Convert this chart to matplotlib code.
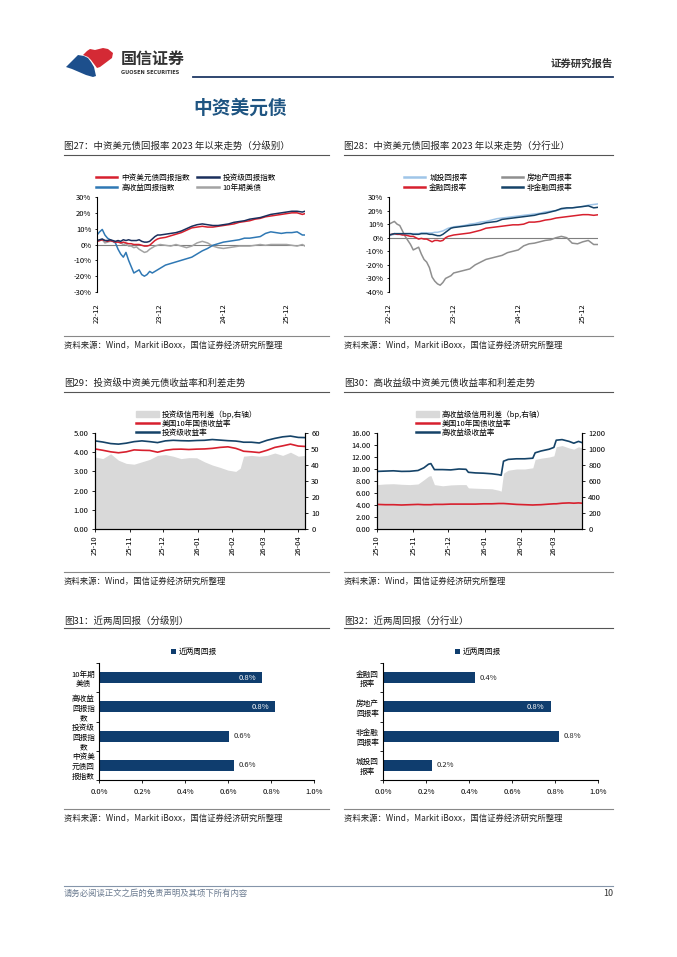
import numpy as np
import pandas as pd
import matplotlib
matplotlib.use('Agg')
import matplotlib.pyplot as plt
from matplotlib.patches import Patch
from matplotlib.lines import Line2D
from matplotlib.ticker import FuncFormatter

plt.rcParams['font.family'] = ['Noto Sans CJK SC', 'DejaVu Sans']
plt.rcParams['axes.unicode_minus'] = False

W, H = 677, 957

# ---------------- data ----------------
# months since 2022-12 (charts 27/28)
m_grid = [0, 0.5, 1, 1.5, 2, 2.5, 3, 3.5, 4, 4.5, 5, 5.5, 6, 6.5, 7, 7.5, 8, 8.5, 9, 9.5,
          10, 10.5, 11, 11.5, 12, 13, 14, 15, 16, 17, 18, 19, 20, 21, 22, 23, 24, 25, 26,
          27, 28, 29, 30, 31, 32, 33, 34, 35, 36, 37, 38, 39, 39.5]
year_ticks = [0, 12, 24, 36]
year_labels = ['22-12', '23-12', '24-12', '25-12']

# fig 27 (%)
cn_usd = [2, 2.5, 3, 2.5, 2, 2.5, 2, 1.5, 1.5, 1, 1.5, 1, 0.5, 0.5, 0, 0, 0, -0.5, -1, -1,
          -0.5, 1, 2.5, 3.5, 4, 4.5, 5.5, 6.5, 7.5, 9, 10.5, 11, 11.5, 11, 11, 11.5, 12, 12.5, 13,
          14, 14.5, 15, 16, 16.5, 17.5, 18, 18.5, 19, 19.5, 20, 20, 19, 19.5]
ig_idx = [2.5, 3, 3.5, 2.5, 2.5, 3, 2.5, 2, 2.5, 2, 3, 2.5, 3, 2.5, 2.5, 2.5, 3, 2, 1.5, 1.5,
          2, 3.5, 5, 6, 6, 6.5, 7, 7.5, 8.5, 10, 11.5, 12.5, 13, 12.5, 12, 12, 12.5, 13, 14,
          14.5, 15, 16, 16.5, 17, 18, 19, 19.5, 20, 20.5, 21, 21, 20.5, 21]
hy_idx = [6, 8, 9.5, 6, 4, 3, 2, 1, -3, -6, -8, -5, -10, -14, -18, -17, -16, -19, -20, -19,
          -17, -18, -17, -16, -15, -13, -12, -11, -10, -9, -8, -6, -4, -2.5, -0.5, 0.5, 1.5, 2, 2.5,
          3, 4, 4, 4.5, 5, 7, 8, 7.5, 7, 7.5, 7.5, 8, 6, 6]
ust10 = [2, 2.5, 3, 1, 1.5, 2, 2, 1.5, 2, 1, 0, 0.5, -1, -1, -2, -1.5, -3, -4, -5, -4.5,
         -3, -2, -1, -0.5, 0, -0.5, -1, 0, -1, -2, -1, 1, 2, 1, -1, -2, -2.5, -2, -1.5,
         -1, -1, -1, -0.5, 0, -0.5, 0, 0, 0, 0, -0.5, -1, 0, -1]

# fig 28 (%)
lgfv = [1.5, 2, 2.5, 2.5, 2.5, 2.5, 3, 3, 3, 3, 3, 3, 3.5, 3.5, 3.5, 3.5, 3.5, 4, 4, 4.5,
        5, 6, 7, 7.5, 8, 8.5, 9, 10, 10.5, 11.5, 12, 13, 14, 14.5, 15, 15.5, 16, 16.5, 17,
        17.5, 18, 19, 19.5, 20, 21, 21.5, 22, 22.5, 23, 24, 24.5, 25, 25]
property_ = [10, 11, 12, 10, 9, 5, 1, -2, -5, -9, -8, -7, -12, -16, -18, -22, -29, -32, -34, -35,
             -33, -30, -29, -28, -26, -25, -24, -23, -20, -18, -16, -15, -14, -13, -11, -10, -9, -6, -4.5,
             -4, -3, -2, -1.5, 0, 1, 0, -4, -4.5, -3, -2, -5, -5, -5]
financial = [2, 2.5, 3, 2.5, 2.5, 2, 2, 1.5, 1, 1, 0, -1, -0.5, -1, -1, -2, -3, -2, -2, -2.5,
             -2, 0, 1, 1.5, 2, 2.5, 3, 3.5, 4.5, 5.5, 7, 7.5, 8, 8.5, 9, 9.5, 9.5, 10, 11.5,
             11.5, 12, 13, 13.5, 14.5, 15, 15.5, 16, 16.5, 17, 17, 16.5, 17, 17]
non_fin = [2, 2.5, 3, 3, 3, 3, 3, 3, 3, 2.5, 2.5, 2.5, 3, 3, 3, 2.5, 2.5, 2, 1.5, 1.5,
           2.5, 4, 5.5, 7, 7.5, 8, 8.5, 9, 9.5, 10, 11, 11.5, 12, 13.5, 14, 14.5, 15, 15.5, 16,
           16.5, 17.5, 18, 19, 20, 21.5, 22, 22, 22.5, 23, 23.5, 22, 22.5, 22.5]

# fig 29: days since 2025-10-01
days29 = [0, 7, 14, 21, 28, 35, 42, 49, 56, 63, 70, 77, 84, 91, 98, 105, 112, 119, 126, 130,
          133, 140, 147, 154, 161, 168, 175, 182, 188]
ig_yield = [4.59, 4.53, 4.45, 4.42, 4.47, 4.55, 4.59, 4.55, 4.50, 4.59, 4.62, 4.60, 4.59, 4.61,
            4.62, 4.66, 4.63, 4.60, 4.58, 4.55, 4.52, 4.52, 4.48, 4.62, 4.72, 4.80, 4.84, 4.77, 4.76]
ust29 = [4.17, 4.10, 4.02, 3.97, 4.02, 4.12, 4.10, 4.09, 4.00, 4.10, 4.15, 4.16, 4.14, 4.16,
         4.17, 4.20, 4.25, 4.28, 4.20, 4.12, 4.05, 4.02, 3.98, 4.10, 4.25, 4.33, 4.42, 4.32, 4.30]
ig_spread = [45, 44, 47, 43, 41, 40.5, 42, 43.5, 46, 46.5, 45.5, 44, 44.6, 44.5, 42, 40, 38.5,
             36.8, 36, 38, 45.5, 46, 45.5, 46, 47.5, 46, 48, 45.5, 46]

# fig 30
days30 = [0, 7, 14, 21, 28, 35, 40, 44, 46, 49, 56, 63, 70, 76, 78, 84, 91, 98, 104, 106, 108,
          112, 119, 126, 133, 135, 140, 147, 151, 153, 158, 164, 168, 172, 175]
hy_yield = [9.6, 9.65, 9.7, 9.6, 9.62, 9.75, 10.2, 10.8, 10.9, 9.9, 9.9, 9.85, 10.0, 9.95, 9.45,
            9.35, 9.3, 9.2, 9.05, 8.95, 11.3, 11.6, 11.7, 11.7, 11.8, 12.7, 13.0, 13.3, 13.6, 14.8,
            14.9, 14.6, 14.3, 14.6, 14.4]
ust30 = [4.1, 4.05, 4.05, 4.0, 4.05, 4.1, 4.05, 4.05, 4.05, 4.1, 4.1, 4.15, 4.15, 4.15, 4.15,
         4.15, 4.2, 4.2, 4.25, 4.25, 4.25, 4.2, 4.1, 4.05, 4.0, 4.02, 4.05, 4.15, 4.2, 4.2, 4.3,
         4.35, 4.3, 4.35, 4.3]
hy_spread = [555, 563, 566, 559, 555, 563, 615, 660, 668, 555, 540, 551, 555, 555, 514, 510, 506,
             503, 484, 473, 698, 735, 750, 750, 765, 870, 885, 900, 915, 1028, 1043, 1013, 998,
             1028, 1013]

# fig 31 / 32 (%)
cats31 = ['10年期\n美债', '高收益\n回报指\n数', '投资级\n回报指\n数', '中资美\n元债回\n报指数']
vals31 = [0.76, 0.82, 0.605, 0.63]
cats32 = ['金融回\n报率', '房地产\n回报率', '非金融\n回报率', '城投回\n报率']
vals32 = [0.43, 0.78, 0.82, 0.23]

# ---------------- style ----------------
RED = '#d7202e'
NAVY = '#1a2f5c'
NAVY2 = '#154368'
HYBLUE = '#2f78b4'
LIGHT = '#9fc5e8'
GRAY = '#a3a3a3'
AREA = '#d9d9d9'
BAR = '#0f3d6e'
FS = 5.5


def rect(l, t, r, b):
    return [l / W, 1 - b / H, (r - l) / W, (b - t) / H]


def fig_pt(x, y):
    return (x / W, 1 - y / H)


fig = plt.figure(figsize=(W / 100, H / 100), dpi=100)
page = fig.add_axes([0, 0, 1, 1])
page.set_xlim(0, W)
page.set_ylim(H, 0)
page.axis('off')

# header / logo
page.fill([66, 72, 78, 84, 88, 91, 94, 96, 93, 86, 79, 72],
          [67, 61, 55, 56, 58, 62, 67, 76, 77, 75, 72, 69],
          color='#1d4f8c', lw=0)
page.fill([83, 87, 90, 95, 99, 103, 108, 113, 112, 108, 104, 100, 97, 94, 91, 88],
          [55, 51, 49, 50, 49, 48, 49, 53, 58, 61, 64, 67, 68, 64, 60, 57],
          color='#d42a35', lw=0)
page.text(121, 59, '国信证券', fontsize=11.5, fontweight='bold', color='#333333', va='center')
page.text(121, 72, 'GUOSEN SECURITIES', fontsize=3.6, fontweight='bold', color='#333333',
          va='center', family='DejaVu Sans')
page.text(613, 64, '证券研究报告', fontsize=7.5, fontweight='bold', color='#333333', ha='right', va='center')
page.plot([193, 613], [77, 77], color='#1f3864', lw=1.3)
page.text(193, 108, '中资美元债', fontsize=13.5, fontweight='bold', color='#1f5582', va='center')

titles = [
    (64, 146, '图27：中资美元债回报率 2023 年以来走势（分级别）'),
    (344, 146, '图28：中资美元债回报率 2023 年以来走势（分行业）'),
    (64, 383, '图29：投资级中资美元债收益率和利差走势'),
    (344, 383, '图30：高收益级中资美元债收益率和利差走势'),
    (64, 621, '图31：近两周回报（分级别）'),
    (344, 621, '图32：近两周回报（分行业）'),
]
for x, y, s in titles:
    page.text(x, y, s, fontsize=6.8, color='#222222', va='center')
for y in (155, 392, 628):
    page.plot([64, 329], [y, y], color='#555555', lw=0.8)
    page.plot([344, 613], [y, y], color='#555555', lw=0.8)

src_a = '资料来源：Wind，Markit iBoxx，国信证券经济研究所整理'
src_b = '资料来源：Wind，国信证券经济研究所整理'
for y_line, y_txt, s in ((336, 345, src_a), (572, 581, src_b), (809, 818, src_a)):
    for x0, x1 in ((64, 329), (344, 613)):
        page.plot([x0, x1], [y_line, y_line], color='#888888', lw=0.8)
        page.text(x0, y_txt, s, fontsize=6, color='#222222', va='center')

page.plot([64, 613], [886, 886], color='#8595aa', lw=0.8)
page.text(64, 893, '请务必阅读正文之后的免责声明及其项下所有内容', fontsize=6, color='#6b7b90', va='center')
page.text(613, 893, '10', fontsize=6.5, color='#333333', ha='right', va='center')


# ---------------- line charts 27/28 ----------------
def pct_axes(r, ylo, yhi, xmax):
    ax = fig.add_axes(rect(*r))
    ax.set_xlim(0, xmax)
    ax.set_ylim(ylo, yhi)
    ax.set_yticks(np.arange(ylo, yhi + 1, 10))
    ax.yaxis.set_major_formatter(FuncFormatter(lambda v, _: f'{v:.0f}%'))
    ax.set_xticks(year_ticks)
    ax.set_xticklabels(year_labels, rotation=90)
    for s in ('top', 'right', 'bottom'):
        ax.spines[s].set_visible(False)
    ax.spines['left'].set_linewidth(0.8)
    ax.tick_params(axis='y', labelsize=FS, length=1.5, width=0.6, pad=2.5)
    ax.tick_params(axis='x', labelsize=FS, length=0, pad=8)
    ax.axhline(0, color='#7f7f7f', lw=0.8, zorder=1)
    ax.patch.set_alpha(0)
    return ax


ax27 = pct_axes((97, 197, 305, 292), -30, 30, 39.5)
l_ust, = ax27.plot(m_grid, ust10, color=GRAY, lw=1.1)
l_hy, = ax27.plot(m_grid, hy_idx, color=HYBLUE, lw=1.1)
l_cn, = ax27.plot(m_grid, cn_usd, color=RED, lw=1.1)
l_ig, = ax27.plot(m_grid, ig_idx, color=NAVY, lw=1.1)
ax27.legend([l_cn, l_hy, l_ig, l_ust], ['中资美元债回报指数', '高收益回报指数', '投资级回报指数', '10年期美债'],
            ncol=2, loc='upper left', bbox_to_anchor=fig_pt(96, 174), bbox_transform=fig.transFigure,
            frameon=False, fontsize=FS, handlelength=2.8, handletextpad=0.5, columnspacing=1.0,
            labelspacing=0.25, borderpad=0, borderaxespad=0)
for h in ax27.get_legend().get_lines():
    h.set_linewidth(1.8)

ax28 = pct_axes((389, 197, 598, 292), -40, 30, 38.8)
l_re, = ax28.plot(m_grid, property_, color='#8f8f8f', lw=1.1)
l_lg, = ax28.plot(m_grid, lgfv, color=LIGHT, lw=1.1)
l_fi, = ax28.plot(m_grid, financial, color=RED, lw=1.1)
l_nf, = ax28.plot(m_grid, non_fin, color=NAVY2, lw=1.1)
ax28.legend([l_lg, l_fi, l_re, l_nf], ['城投回报率', '金融回报率', '房地产回报率', '非金融回报率'],
            ncol=2, loc='upper left', bbox_to_anchor=fig_pt(404, 174), bbox_transform=fig.transFigure,
            frameon=False, fontsize=FS, handlelength=2.8, handletextpad=0.5, columnspacing=4.5,
            labelspacing=0.25, borderpad=0, borderaxespad=0)
for h in ax28.get_legend().get_lines():
    h.set_linewidth(1.8)


# ---------------- yield / spread charts 29/30 ----------------
def yield_axes(r, days, start, month_ticks, ylim, rlim, rstep):
    ax = fig.add_axes(rect(*r))
    ax2 = ax.twinx()
    d = pd.Timestamp(start) + pd.to_timedelta(days, unit='D')
    ax.set_zorder(ax2.get_zorder() + 1)
    ax.patch.set_visible(False)
    ax.set_xlim(d[0], d[-1])
    ax.set_ylim(*ylim)
    ax2.set_ylim(*rlim)
    ax.set_yticks(np.linspace(ylim[0], ylim[1], 6 if ylim[1] == 5 else 9))
    ax.yaxis.set_major_formatter(FuncFormatter(lambda v, _: f'{v:.2f}'))
    ax2.set_yticks(np.arange(rlim[0], rlim[1] + 1, rstep))
    ticks = pd.date_range(start, periods=month_ticks, freq='MS')
    ax.set_xticks(ticks)
    ax.set_xticklabels([t.strftime('%y-%m') for t in ticks], rotation=90)
    for a in (ax, ax2):
        a.spines['top'].set_visible(False)
        for s in ('left', 'right', 'bottom'):
            a.spines[s].set_linewidth(0.8)
        a.tick_params(labelsize=FS, length=2, width=0.6, pad=2.5)
    return ax, ax2, d


ax29, ax29r, d29 = yield_axes((95, 433, 305, 529), days29, '2025-10-01', 7, (0, 5), (0, 60), 10)
ax29r.fill_between(d29, 0, ig_spread, color=AREA, lw=0)
ax29.plot(d29, ust29, color=RED, lw=1.2)
ax29.plot(d29, ig_yield, color=NAVY2, lw=1.2)
ax29.legend([Patch(color=AREA), Line2D([], [], color=RED, lw=1.8), Line2D([], [], color=NAVY2, lw=1.8)],
            ['投资级信用利差（bp,右轴）', '美国10年国债收益率', '投资级收益率'],
            loc='upper left', bbox_to_anchor=fig_pt(136, 410), bbox_transform=fig.transFigure,
            frameon=False, fontsize=FS, handlelength=3.0, handleheight=0.9, handletextpad=0.4,
            labelspacing=0.15, borderpad=0, borderaxespad=0)

ax30, ax30r, d30 = yield_axes((377, 433, 582, 529), days30, '2025-10-01', 6, (0, 16), (0, 1200), 200)
ax30r.fill_between(d30, 0, hy_spread, color=AREA, lw=0)
ax30.plot(d30, ust30, color=RED, lw=1.2)
ax30.plot(d30, hy_yield, color=NAVY2, lw=1.2)
ax30.legend([Patch(color=AREA), Line2D([], [], color=RED, lw=1.8), Line2D([], [], color=NAVY2, lw=1.8)],
            ['高收益级信用利差（bp,右轴）', '美国10年国债收益率', '高收益级收益率'],
            loc='upper left', bbox_to_anchor=fig_pt(416, 410), bbox_transform=fig.transFigure,
            frameon=False, fontsize=FS, handlelength=3.0, handleheight=0.9, handletextpad=0.4,
            labelspacing=0.15, borderpad=0, borderaxespad=0)


# ---------------- bar charts 31/32 ----------------
def bar_panel(r, cats, vals, inside, legend_x):
    ax = fig.add_axes(rect(*r))
    y = np.arange(len(cats))
    ax.barh(y, vals, height=0.38, color=BAR, label='近两周回报')
    ax.set_ylim(len(cats) - 0.5, -0.5)
    ax.set_xlim(0, 1.0)
    ax.set_xticks(np.arange(0, 1.01, 0.2))
    ax.xaxis.set_major_formatter(FuncFormatter(lambda v, _: f'{v:.1f}%'))
    ax.set_yticks(y)
    ax.set_yticklabels(cats, fontsize=FS, linespacing=1.3)
    for lab in ax.get_yticklabels():
        lab.set_multialignment('center')
    ax.set_yticks(np.arange(-0.5, len(cats), 1), minor=True)
    ax.tick_params(axis='y', which='major', length=0, pad=3)
    ax.tick_params(axis='y', which='minor', length=2, width=0.6)
    ax.tick_params(axis='x', labelsize=FS, length=2, width=0.6, pad=4)
    for s in ('top', 'right'):
        ax.spines[s].set_visible(False)
    for s in ('left', 'bottom'):
        ax.spines[s].set_linewidth(0.8)
    for i, v in enumerate(vals):
        if inside[i]:
            ax.text(v - 0.03, i, f'{v:.1f}%', color='white', ha='right', va='center', fontsize=FS)
        else:
            ax.text(v + 0.02, i, f'{v:.1f}%', color='#222222', ha='left', va='center', fontsize=FS)
    ax.legend(loc='center', bbox_to_anchor=fig_pt(legend_x, 652), bbox_transform=fig.transFigure,
              frameon=False, fontsize=FS, handlelength=0.7, handleheight=0.7, handletextpad=0.4,
              borderpad=0, borderaxespad=0)
    return ax


bar_panel((99, 663, 314, 780), cats31, vals31, [True, True, False, False], 194)
bar_panel((383, 663, 598, 780), cats32, vals32, [False, True, False, False], 478)

fig.savefig('out.png', dpi=100)
